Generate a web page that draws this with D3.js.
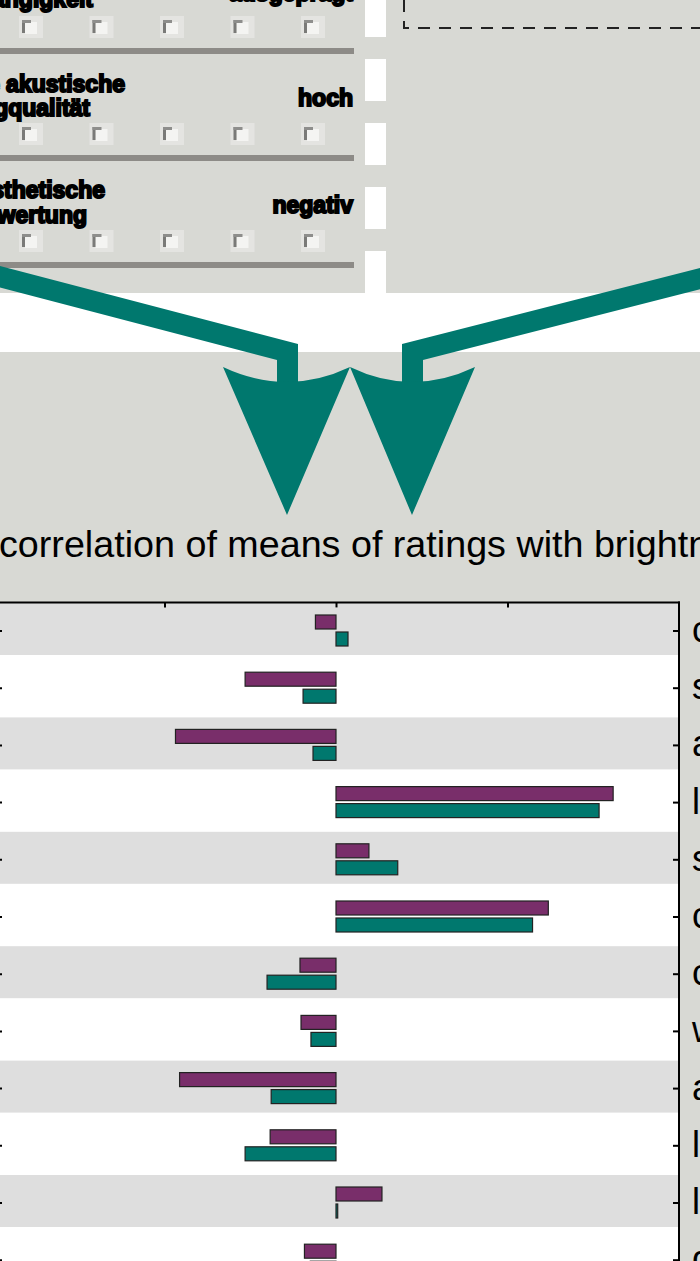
<!DOCTYPE html>
<html>
<head>
<meta charset="utf-8">
<script src="https://cdn.jsdelivr.net/npm/d3@7"></script>
<style>
  body { margin: 0; background: #d8d9d4; }
  svg { display: block; }
</style>
</head>
<body>
<div id="chart"></div>
<script>
// rating scales (right-hand labels, cut by the crop)
const rowLabels = ["calm", "soft", "aggressive", "lively", "sharp", "clear",
                   "cold", "warm", "angry", "light", "lean", "dull"];
// correlation of mean ratings with brightness, two groups
const groupA = [-0.06, -0.265, -0.468, 0.808, 0.096, 0.619, -0.105, -0.102, -0.456, -0.192, 0.134, -0.092];
const groupB = [0.035, -0.096, -0.067, 0.767, 0.180, 0.573, -0.201, -0.073, -0.189, -0.265, 0.005, -0.075];
const xTicks = [-0.5, 0, 0.5];

// questionnaire snippet in the top-left panel
const itemLeft = [["Eingängigkeit"], ["allgemeine akustische", "Klangqualität"], ["persönliche ästhetische", "Bewertung"]];
const itemRight = ["ausgeprägt", "hoch", "negativ"];
const radioCount = 5;

const W = 700, H = 1261;
const bg = "#d8d9d4";
const purple = "#792e6a";
const teal = "#00786e";

const svg = d3.select("#chart").append("svg")
    .attr("width", W)
    .attr("height", H);

svg.append("rect").attr("width", W).attr("height", H).attr("fill", bg);

// ---------- top: questionnaire panels ----------
const rowTop = [-79, 28, 135];   // top of each questionnaire row block
const panel = svg.append("g");

panel.selectAll(".sep")
    .data(rowTop)
  .enter().append("rect")
    .attr("x", 0)
    .attr("y", d => d + 127)
    .attr("width", 354)
    .attr("height", 6)
    .attr("fill", "#8d8b87");

const radioX = d3.scalePoint().domain(d3.range(radioCount)).range([22, 304]);
rowTop.forEach(t => {
    const g = panel.append("g").attr("transform", `translate(0,${t + 99})`);
    d3.range(radioCount).forEach(i => {
        const x = radioX(i);
        g.append("rect").attr("x", x - 3).attr("y", -4).attr("width", 24).attr("height", 22).attr("fill", "#e4e4e1");
        g.append("rect").attr("x", x + 3).attr("y", 2).attr("width", 12).attr("height", 12).attr("fill", "#f4f4f2");
        g.append("rect").attr("x", x).attr("y", 0).attr("width", 3).attr("height", 13).attr("fill", "#7a7a78");
        g.append("rect").attr("x", x).attr("y", 0).attr("width", 9).attr("height", 3).attr("fill", "#8e8e8c");
    });
});

const lineY = [[7], [92, 116], [198, 223]];
const lineEnd = [[93], [125, 90], [105, 87]];
itemLeft.forEach((lines, r) => {
    lines.forEach((txt, k) => {
        panel.append("text")
            .attr("x", lineEnd[r][k])
            .attr("y", lineY[r][k])
            .attr("text-anchor", "end")
            .attr("font-family", "Liberation Sans, Arial, sans-serif")
            .attr("font-weight", "bold")
            .attr("font-size", 23)
            .attr("stroke", "#000")
            .attr("stroke-width", 2)
            .attr("fill", "#000")
            .text(txt);
    });
});
const rightY = [1, 106, 213];
itemRight.forEach((txt, r) => {
    panel.append("text")
        .attr("x", 353)
        .attr("y", rightY[r])
        .attr("text-anchor", "end")
        .attr("font-family", "Liberation Sans, Arial, sans-serif")
        .attr("font-weight", "bold")
        .attr("font-size", 23)
        .attr("stroke", "#000")
        .attr("stroke-width", 2)
        .attr("fill", "#000")
        .text(txt);
});

// white dashed divider between the panels
svg.selectAll(".dash")
    .data([0, 59, 123, 187, 251])
  .enter().append("rect")
    .attr("x", 365)
    .attr("y", d => d)
    .attr("width", 21)
    .attr("height", (d, i) => i === 0 ? 37 : 42)
    .attr("fill", "#fff");

// dashed frame in right panel
svg.append("path")
    .attr("d", "M404,0 V28 H705")
    .attr("fill", "none")
    .attr("stroke", "#222")
    .attr("stroke-width", 2)
    .attr("stroke-dasharray", "12,9");

// white band
svg.append("rect").attr("x", 0).attr("y", 293).attr("width", W).attr("height", 59).attr("fill", "#fff");

// ---------- arrows ----------
const arrows = svg.append("g").attr("fill", teal);
arrows.append("path").attr("d", "M-5,264.6 L298,344 V385 H277 V360 L-5,286.1 Z");
arrows.append("path").attr("d", "M705,266.7 L402,344 V385 H423 V360 L705,288 Z");
arrows.append("path").attr("d", "M223,367 Q287,397 350,367 L287,515 Z");
arrows.append("path").attr("d", "M350,367 Q412,397 475,367 L412,515 Z");

// ---------- title ----------
svg.append("text")
    .attr("x", -1)
    .attr("y", 557)
    .attr("font-family", "Liberation Sans, Arial, sans-serif")
    .attr("font-size", 37.7)
    .attr("fill", "#000")
    .text("correlation of means of ratings with brightness");

// ---------- bar chart ----------
const plotTop = 602.4, plotRight = 679;
const x = d3.scaleLinear().domain([-1, 1]).range([-7, plotRight]);
const y = d3.scaleBand().domain(rowLabels).range([plotTop, plotTop + rowLabels.length * 57.2]);

const plot = svg.append("g");
plot.append("rect")
    .attr("x", -10).attr("y", plotTop)
    .attr("width", plotRight + 10).attr("height", H - plotTop)
    .attr("fill", "#fff");

plot.selectAll(".band")
    .data(rowLabels.filter((d, i) => i % 2 === 0))
  .enter().append("rect")
    .attr("class", "band")
    .attr("x", -10)
    .attr("y", d => y(d) + 0.6)
    .attr("width", plotRight + 10)
    .attr("height", 52)
    .attr("fill", "#dedede");

const rows = rowLabels.map((d, i) => ({label: d, a: groupA[i], b: groupB[i]}));

plot.selectAll(".barA")
    .data(rows)
  .enter().append("rect")
    .attr("class", "barA")
    .attr("x", d => x(Math.min(0, d.a)))
    .attr("y", d => y(d.label) + y.bandwidth() / 2 - 16)
    .attr("width", d => Math.abs(x(d.a) - x(0)))
    .attr("height", 14)
    .attr("fill", purple)
    .attr("stroke", "#222")
    .attr("stroke-width", 1.2);

plot.selectAll(".barB")
    .data(rows)
  .enter().append("rect")
    .attr("class", "barB")
    .attr("x", d => x(Math.min(0, d.b)))
    .attr("y", d => y(d.label) + y.bandwidth() / 2 + 1)
    .attr("width", d => Math.max(1, Math.abs(x(d.b) - x(0))))
    .attr("height", 14)
    .attr("fill", teal)
    .attr("stroke", "#222")
    .attr("stroke-width", 1.2);

// axes
const topAxis = d3.axisTop(x).tickValues(xTicks).tickSize(-5).tickFormat("");
plot.append("g")
    .attr("transform", `translate(0,${plotTop})`)
    .call(topAxis)
    .call(g => g.select(".domain").remove())
    .call(g => g.selectAll("line").attr("stroke", "#000").attr("stroke-width", 2));

const rightAxis = d3.axisRight(y).tickSize(-6).tickFormat("");
plot.append("g")
    .attr("transform", `translate(${plotRight},0)`)
    .call(rightAxis)
    .call(g => g.select(".domain").remove())
    .call(g => g.selectAll("line").attr("stroke", "#000").attr("stroke-width", 2));

const leftAxis = d3.axisLeft(y).tickSize(-9).tickFormat("");
plot.append("g")
    .attr("transform", `translate(-7,0)`)
    .call(leftAxis)
    .call(g => g.select(".domain").remove())
    .call(g => g.selectAll("line").attr("stroke", "#000").attr("stroke-width", 2));

plot.append("line")
    .attr("x1", -10).attr("x2", plotRight + 1)
    .attr("y1", plotTop).attr("y2", plotTop)
    .attr("stroke", "#000").attr("stroke-width", 2);
plot.append("line")
    .attr("x1", plotRight).attr("x2", plotRight)
    .attr("y1", plotTop - 1).attr("y2", H)
    .attr("stroke", "#000").attr("stroke-width", 2);

// row labels on the right (mostly outside the crop)
plot.selectAll(".lab")
    .data(rowLabels)
  .enter().append("text")
    .attr("x", plotRight + 13)
    .attr("y", d => y(d) + y.bandwidth() / 2 + 11)
    .attr("font-family", "Liberation Sans, Arial, sans-serif")
    .attr("font-size", 36)
    .attr("fill", "#000")
    .text(d => d);
</script>
</body>
</html>
